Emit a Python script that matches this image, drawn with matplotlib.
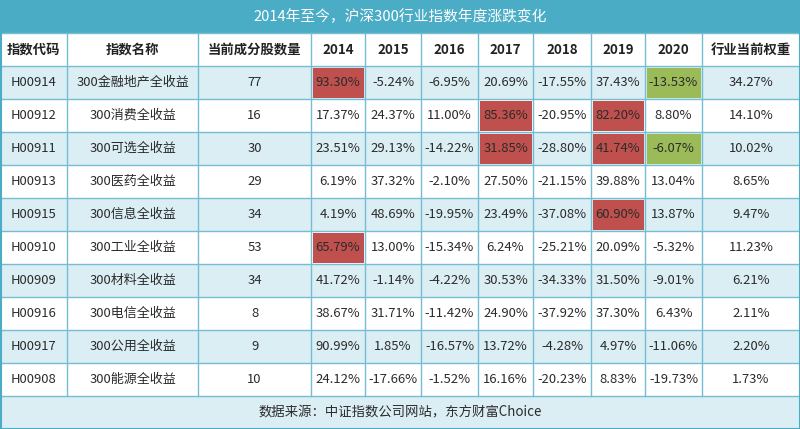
import matplotlib.pyplot as plt
from matplotlib.patches import Rectangle

plt.rcParams['font.family'] = ['Noto Sans CJK SC', 'DejaVu Sans']

title = '2014年至今，沪深300行业指数年度涨跌变化'
source = '数据来源：中证指数公司网站，东方财富Choice'

headers = ['指数代码', '指数名称', '当前成分股数量', '2014', '2015', '2016',
           '2017', '2018', '2019', '2020', '行业当前权重']

codes = ['H00914', 'H00912', 'H00911', 'H00913', 'H00915',
         'H00910', 'H00909', 'H00916', 'H00917', 'H00908']
names = ['300金融地产全收益', '300消费全收益', '300可选全收益', '300医药全收益',
         '300信息全收益', '300工业全收益', '300材料全收益', '300电信全收益',
         '300公用全收益', '300能源全收益']
counts = [77, 16, 30, 29, 34, 53, 34, 8, 9, 10]

r2014 = [93.30, 17.37, 23.51, 6.19, 4.19, 65.79, 41.72, 38.67, 90.99, 24.12]
r2015 = [-5.24, 24.37, 29.13, 37.32, 48.69, 13.00, -1.14, 31.71, 1.85, -17.66]
r2016 = [-6.95, 11.00, -14.22, -2.10, -19.95, -15.34, -4.22, -11.42, -16.57, -1.52]
r2017 = [20.69, 85.36, 31.85, 27.50, 23.49, 6.24, 30.53, 24.90, 13.72, 16.16]
r2018 = [-17.55, -20.95, -28.80, -21.15, -37.08, -25.21, -34.33, -37.92, -4.28, -20.23]
r2019 = [37.43, 82.20, 41.74, 39.88, 60.90, 20.09, 31.50, 37.30, 4.97, 8.83]
r2020 = [-13.53, 8.80, -6.07, 13.04, 13.87, -5.32, -9.01, 6.43, -11.06, -19.73]
weights = [34.27, 14.10, 10.02, 8.65, 9.47, 11.23, 6.21, 2.11, 2.20, 1.73]

# highlighted cells: (row, column) -> 'red' / 'green'
highlights = {(0, 3): 'red', (0, 9): 'green',
              (1, 6): 'red', (1, 8): 'red',
              (2, 6): 'red', (2, 8): 'red', (2, 9): 'green',
              (4, 8): 'red', (5, 3): 'red'}

# layout
W, H = 800, 429
col_edges = [0, 67, 198, 311, 365, 421, 478, 533, 591, 645, 702, 800]
row_h = 33
teal = '#4bacc6'
band = '#dbeef4'
grid = '#74bdd2'
fills = {'red': '#c0504d', 'green': '#9bbb59'}
txt = '#2b2b2b'

fig = plt.figure(figsize=(8, 4.29), dpi=100)
ax = fig.add_axes([0, 0, 1, 1])
ax.set_xlim(0, W)
ax.set_ylim(H, 0)
ax.axis('off')

# title bar
ax.add_patch(Rectangle((0, 0), W, row_h, color=teal, lw=0))
ax.text(W / 2, row_h / 2, title, color='white', fontsize=10.6,
        ha='center', va='center')

# header
for j, h in enumerate(headers):
    xc = (col_edges[j] + col_edges[j + 1]) / 2
    ax.text(xc, row_h * 1.5, h, color='#222222', fontsize=9.6,
            fontweight='bold', ha='center', va='center')

year_cols = [r2014, r2015, r2016, r2017, r2018, r2019, r2020]
for i in range(len(codes)):
    y0 = row_h * (i + 2)
    if i % 2 == 0:
        ax.add_patch(Rectangle((0, y0), W, row_h, color=band, lw=0))
    cells = [codes[i], names[i], str(counts[i])]
    cells += [f'{col[i]:.2f}%' for col in year_cols]
    cells.append(f'{weights[i]:.2f}%')
    for j, c in enumerate(cells):
        x0, x1 = col_edges[j], col_edges[j + 1]
        key = (i, j)
        if key in highlights:
            ax.add_patch(Rectangle((x0 + 1.5, y0 + 1.5), x1 - x0 - 3, row_h - 3,
                                   color=fills[highlights[key]], lw=0, zorder=2))
        ax.text((x0 + x1) / 2, y0 + row_h / 2, c, color=txt, fontsize=9.4,
                ha='center', va='center', zorder=3)

# footer
yf = row_h * (len(codes) + 2)
ax.add_patch(Rectangle((0, yf), W, H - yf, color=band, lw=0))
ax.text(W / 2, (yf + H) / 2, source, color=txt, fontsize=9.6,
        ha='center', va='center')

# grid lines
for k in range(1, len(codes) + 3):
    ax.plot([0, W], [row_h * k, row_h * k], color=grid, lw=1, zorder=4)
for x in col_edges[1:-1]:
    ax.plot([x, x], [row_h, yf], color=grid, lw=1, zorder=4)
ax.add_patch(Rectangle((0.5, 0.5), W - 1, H - 1, fill=False, ec=teal, lw=1.5,
                       zorder=5))

fig.savefig('out.png', dpi=100)
